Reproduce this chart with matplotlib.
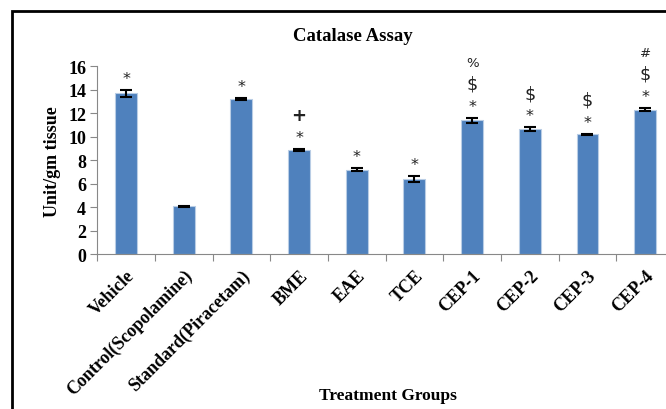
import matplotlib.pyplot as plt
from matplotlib.patches import Rectangle

groups = ['Vehicle', 'Control(Scopolamine)', 'Standard(Piracetam)', 'BME', 'EAE',
          'TCE', 'CEP-1', 'CEP-2', 'CEP-3', 'CEP-4']
catalase = [13.7, 4.05, 13.2, 8.85, 7.2, 6.4, 11.4, 10.65, 10.2, 12.3]
sem = [0.3, 0.05, 0.1, 0.1, 0.15, 0.25, 0.2, 0.15, 0.05, 0.15]
# significance marks, listed from bottom to top
marks = [['*'], [], ['*'], ['*', '+'], ['*'], ['*'],
         ['*', '$', '%'], ['*', '$'], ['*', '$'], ['*', '$', '#']]

serif = 'Liberation Serif'

fig = plt.figure(figsize=(6.66, 4.10), dpi=100)
ax = fig.add_axes([0.146, 0.378, 0.866, 0.458])

x = range(len(groups))
ax.bar(x, catalase, width=0.38, color='#4F81BD', edgecolor='#B9CDE5', linewidth=0.8,
       yerr=sem, capsize=4, error_kw=dict(ecolor='black', elinewidth=1.5, capthick=1.5))

for i, (v, e, m) in enumerate(zip(catalase, sem, marks)):
    for k, s in enumerate(m):
        if s == '$':
            fs, fw = 12.5, 'normal'
        elif s in ('%', '#'):
            fs, fw = 9.5, 'normal'
        elif s == '+':
            fs, fw = 13, 'bold'
        else:
            fs, fw = 11.5, 'normal'
        step = 15 if k < 2 else 17
        ax.annotate(s, (i, v + e), xytext=(0, 3 + 15 * min(k, 1) + (step if k == 2 else 0)),
                    textcoords='offset points', ha='center', va='bottom', fontsize=fs,
                    family='DejaVu Sans', weight=fw, color='#222222')

ax.set_ylim(0, 16)
ax.set_yticks(range(0, 17, 2))
ax.set_xlim(-0.5, len(groups) - 0.5)
ax.set_xticks([i + 0.5 for i in range(-1, len(groups))], minor=False)
ax.set_xticklabels([])
ax.set_xticks(list(x), minor=True)
ax.set_xticklabels(groups, minor=True, rotation=45, ha='right', va='top',
                   rotation_mode='anchor', family=serif, weight='bold', fontsize=13)
ax.tick_params(axis='x', which='minor', length=0, pad=9)
ax.tick_params(axis='x', which='major', length=5, direction='out', color='#888888')
ax.tick_params(axis='y', length=5, color='#888888', pad=3)
for lab in ax.get_yticklabels():
    lab.set_family(serif)
    lab.set_weight('bold')
    lab.set_fontsize(13)

for side in ('top', 'right'):
    ax.spines[side].set_visible(False)
ax.spines['left'].set_color('#888888')
ax.spines['bottom'].set_color('#888888')

ax.set_ylabel('Unit/gm tissue', family=serif, weight='bold', fontsize=13, labelpad=5)
fig.text(0.53, 0.912, 'Catalase Assay', ha='center', va='center',
         family=serif, weight='bold', fontsize=13.5)
fig.text(0.583, 0.035, 'Treatment Groups', ha='center', va='center',
         family=serif, weight='bold', fontsize=12.5)

fig.patches.append(Rectangle((12 / 666, -0.1), 1.2, 1 - 12 / 410 + 0.1,
                             transform=fig.transFigure, fill=False,
                             edgecolor='black', linewidth=2))

fig.savefig('out.png', dpi=100)
